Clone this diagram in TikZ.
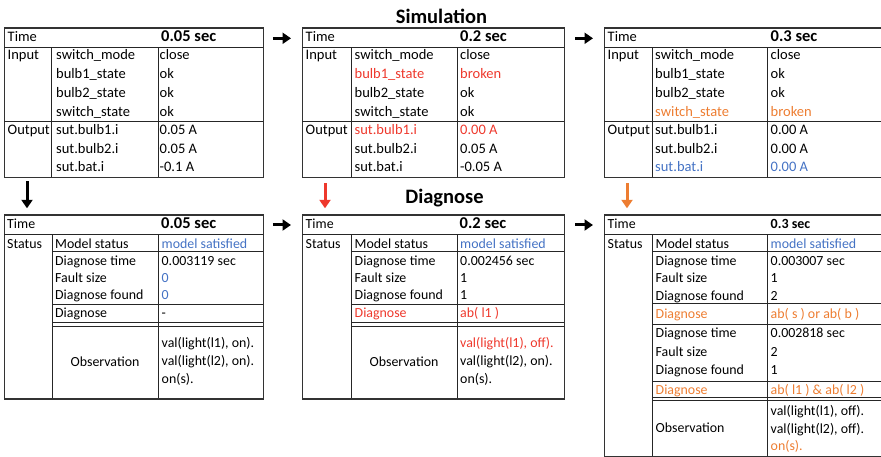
\documentclass[tikz,border=0pt]{standalone}
\usepackage{fontspec}
\setmainfont{Carlito}
\usetikzlibrary{arrows.meta}
\definecolor{okblue}{RGB}{68,114,196}
\definecolor{faultred}{RGB}{238,56,44}
\definecolor{faultorange}{RGB}{237,125,49}

\begin{document}
\begin{tikzpicture}[
  x=1pt,y=-1pt,
  frame/.style={draw=black!80,line width=1.4pt,inner sep=0pt,anchor=north west},
  rule/.style={draw=black!85,line width=0.9pt},
  cell/.style={anchor=base west,inner sep=0pt,font=\fontsize{14.5}{17}\selectfont},
  dcell/.style={cell,font=\fontsize{13.9}{17}\selectfont},
  timeval/.style={cell,font=\bfseries\fontsize{16.5}{20}\selectfont},
  heading/.style={anchor=base,inner sep=0pt,font=\bfseries\fontsize{20.5}{24}\selectfont},
  flow/.style={-{Triangle[length=8.5pt,width=11pt]},line width=3pt}
]
\useasboundingbox (0,0) rectangle (881,457);

\node[heading] (simtitle)  at (441.5,24)    {Simulation};
\node[heading] (diagtitle) at (444.5,203.3) {Diagnose};

% simulation at 0.05 sec
\node[frame,minimum width=259,minimum height=149.4] (simA) at (4,27.3) {};
\draw[rule] (4,47.3)--(263,47.3) (4,121.7)--(263,121.7)
  (51,47.3)--(51,176.7) (158,47.3)--(158,176.7);
\node[cell]    (simA-time) at (7.5,42) {Time};
\node[timeval] (simA-t)    at (161,42) {0.05 sec};
\node[cell]    (simA-in)   at (7.5,60) {Input};
\node[cell]    (simA-out)  at (7.5,135) {Output};
\foreach \name/\val/\col [count=\i] in {switch\_mode/close/black,bulb1\_state/ok/black,
    bulb2\_state/ok/black,switch\_state/ok/black}{
  \node[cell,text=\col] (simA-n\i) at (56,{41.3+18.7*\i}) {\name};
  \node[cell,text=\col] (simA-v\i) at (159.5,{41.3+18.7*\i}) {\val};
}
\foreach \name/\val/\col [count=\i] in {sut.bulb1.i/0.05 A/black,sut.bulb2.i/0.05 A/black,
    sut.bat.i/-0.1 A/black}{
  \node[cell,text=\col] (simA-on\i) at (56,{116.7+18.3*\i}) {\name};
  \node[cell,text=\col] (simA-ov\i) at (159.5,{116.7+18.3*\i}) {\val};
}

% simulation at 0.2 sec
\node[frame,minimum width=262,minimum height=149.4] (simB) at (302,27.3) {};
\draw[rule] (302,47.3)--(564,47.3) (302,121.7)--(564,121.7)
  (351,47.3)--(351,176.7) (457,47.3)--(457,176.7);
\node[cell]    (simB-time) at (305.5,42) {Time};
\node[timeval] (simB-t)    at (460,42) {0.2 sec};
\node[cell]    (simB-in)   at (305.5,60) {Input};
\node[cell]    (simB-out)  at (305.5,135) {Output};
\foreach \name/\val/\col [count=\i] in {switch\_mode/close/black,bulb1\_state/broken/faultred,
    bulb2\_state/ok/black,switch\_state/ok/black}{
  \node[cell,text=\col] (simB-n\i) at (354.5,{41.3+18.7*\i}) {\name};
  \node[cell,text=\col] (simB-v\i) at (460,{41.3+18.7*\i}) {\val};
}
\foreach \name/\val/\col [count=\i] in {sut.bulb1.i/0.00 A/faultred,sut.bulb2.i/0.05 A/black,
    sut.bat.i/-0.05 A/black}{
  \node[cell,text=\col] (simB-on\i) at (354.5,{116.7+18.3*\i}) {\name};
  \node[cell,text=\col] (simB-ov\i) at (460,{116.7+18.3*\i}) {\val};
}

% simulation at 0.3 sec
\node[frame,minimum width=290,minimum height=149.4] (simC) at (604,27.3) {};
\draw[rule] (604,47.3)--(894,47.3) (604,121.7)--(894,121.7)
  (652,47.3)--(652,176.7) (767,47.3)--(767,176.7);
\node[cell]    (simC-time) at (607.5,42) {Time};
\node[timeval] (simC-t)    at (770.5,42) {0.3 sec};
\node[cell]    (simC-in)   at (607.5,60) {Input};
\node[cell]    (simC-out)  at (607.5,135) {Output};
\foreach \name/\val/\col [count=\i] in {switch\_mode/close/black,bulb1\_state/ok/black,
    bulb2\_state/ok/black,switch\_state/broken/faultorange}{
  \node[cell,text=\col] (simC-n\i) at (655,{41.3+18.7*\i}) {\name};
  \node[cell,text=\col] (simC-v\i) at (770.5,{41.3+18.7*\i}) {\val};
}
\foreach \name/\val/\col [count=\i] in {sut.bulb1.i/0.00 A/black,sut.bulb2.i/0.00 A/black,
    sut.bat.i/0.00 A/okblue}{
  \node[cell,text=\col] (simC-on\i) at (655,{116.7+18.3*\i}) {\name};
  \node[cell,text=\col] (simC-ov\i) at (770.5,{116.7+18.3*\i}) {\val};
}

% diagnose at 0.05 sec
\node[frame,minimum width=259,minimum height=184] (diagA) at (4,214.3) {};
\draw[rule] (4,234.3)--(263,234.3) (52,251.7)--(263,251.7) (52,304.7)--(263,304.7)
  (52,322.7)--(263,322.7) (52,326)--(263,326)
  (52,234.3)--(52,398.3) (158,234.3)--(158,398.3);
\node[dcell]   (diagA-time) at (7,229) {Time};
\node[timeval] (diagA-t)    at (161,229) {0.05 sec};
\node[dcell]   (diagA-st)   at (7,248.3) {Status};
\node[dcell]   (diagA-ms)   at (55,248.3) {Model status};
\node[dcell,text=okblue] (diagA-msv) at (161.5,248.3) {model satisfied};
\foreach \name/\val/\col/\y in {Diagnose time/0.003119 sec/black/265.7,
    Fault size/0/okblue/282.5,Diagnose found/0/okblue/299.3}{
  \node[dcell] (diagA-\y) at (55,\y) {\name};
  \node[dcell,text=\col] (diagA-v\y) at (161.5,\y) {\val};
}
\node[dcell] (diagA-dg)  at (55,317.7) {Diagnose};
\node[dcell] (diagA-dgv) at (161.5,317.7) {-};
\node[dcell,anchor=base] (diagA-obs) at (105,366) {Observation};
\node[dcell] (diagA-o1) at (161.5,347.3) {val(light(l1), on).};
\node[dcell] (diagA-o2) at (161.5,365.3) {val(light(l2), on).};
\node[dcell] (diagA-o3) at (161.5,383.3) {on(s).};

% diagnose at 0.2 sec
\node[frame,minimum width=262,minimum height=184] (diagB) at (302,214.3) {};
\draw[rule] (302,234.3)--(564,234.3) (351,251.7)--(564,251.7) (351,304.7)--(564,304.7)
  (351,322.7)--(564,322.7) (351,326)--(564,326)
  (351,234.3)--(351,398.3) (457,234.3)--(457,398.3);
\node[dcell]   (diagB-time) at (305.5,229) {Time};
\node[timeval] (diagB-t)    at (459.5,229) {0.2 sec};
\node[dcell]   (diagB-st)   at (305.5,248.3) {Status};
\node[dcell]   (diagB-ms)   at (354.5,248.3) {Model status};
\node[dcell,text=okblue] (diagB-msv) at (460,248.3) {model satisfied};
\foreach \name/\val/\col/\y in {Diagnose time/0.002456 sec/black/265.7,
    Fault size/1/black/282.5,Diagnose found/1/black/299.3}{
  \node[dcell] (diagB-\y) at (354.5,\y) {\name};
  \node[dcell,text=\col] (diagB-v\y) at (460,\y) {\val};
}
\node[dcell,text=faultred] (diagB-dg)  at (354.5,317.7) {Diagnose};
\node[dcell,text=faultred] (diagB-dgv) at (460,317.7) {ab( l1 )};
\node[dcell,anchor=base] (diagB-obs) at (404,366) {Observation};
\node[dcell,text=faultred] (diagB-o1) at (460,347.3) {val(light(l1), off).};
\node[dcell] (diagB-o2) at (460,365.3) {val(light(l2), on).};
\node[dcell] (diagB-o3) at (460,383.3) {on(s).};

% diagnose at 0.3 sec
\node[frame,minimum width=290,minimum height=241.4] (diagC) at (604,214.3) {};
\draw[rule] (604,234.3)--(894,234.3) (652,251.7)--(894,251.7) (652,303.5)--(894,303.5)
  (652,324)--(894,324) (652,381)--(894,381)
  (652,397.3)--(894,397.3) (652,400.3)--(894,400.3)
  (652,234.3)--(652,455.7) (767,234.3)--(767,455.7);
\node[dcell] (diagC-time) at (607.5,229) {Time};
\node[timeval,font=\bfseries\fontsize{14}{17}\selectfont] (diagC-t) at (770.5,229) {0.3 sec};
\node[dcell] (diagC-st)   at (607.5,248.3) {Status};
\node[dcell] (diagC-ms)   at (655.5,248.3) {Model status};
\node[dcell,text=okblue] (diagC-msv) at (770.5,248.3) {model satisfied};
\foreach \name/\val/\y in {Diagnose time/0.003007 sec/265.7,Fault size/1/282.5,
    Diagnose found/2/300,Diagnose time/0.002818 sec/337.7,Fault size/2/356,
    Diagnose found/1/374.7}{
  \node[dcell] (diagC-\y) at (655.5,\y) {\name};
  \node[dcell] (diagC-v\y) at (770.5,\y) {\val};
}
\node[dcell,text=faultorange] (diagC-dg1)  at (655.5,318.3) {Diagnose};
\node[dcell,text=faultorange] (diagC-dgv1) at (770.5,318.3) {ab( s ) or ab( b )};
\node[dcell,text=faultorange] (diagC-dg2)  at (655.5,394) {Diagnose};
\node[dcell,text=faultorange] (diagC-dgv2) at (770.5,394) {ab( l1 ) \& ab( l2 )};
\node[dcell] (diagC-obs) at (655.5,432) {Observation};
\node[dcell] (diagC-o1) at (770.5,415.3) {val(light(l1), off).};
\node[dcell] (diagC-o2) at (770.5,433.3) {val(light(l2), off).};
\node[dcell,text=faultorange] (diagC-o3) at (770.5,450.7) {on(s).};

% time steps
\draw[flow,shorten <=8.5pt,shorten >=11pt] ([yshift=-11pt]simA.north east) -- ([yshift=-11pt]simB.north west);
\draw[flow,shorten <=10pt,shorten >=11pt] ([yshift=-11pt]simB.north east) -- ([yshift=-11pt]simC.north west);
\draw[flow,shorten <=8.5pt,shorten >=11pt] ([yshift=-10.7pt]diagA.north east) -- ([yshift=-10.7pt]diagB.north west);
\draw[flow,shorten <=10pt,shorten >=11pt] ([yshift=-10.7pt]diagB.north east) -- ([yshift=-10.7pt]diagC.north west);

% simulation feeds diagnose
\draw[flow,shorten <=3.3pt,shorten >=6pt] ([xshift=23pt]simA.south west) -- ([xshift=23pt]diagA.north west);
\draw[flow,faultred,shorten <=5pt,shorten >=6pt] ([xshift=23pt]simB.south west) -- ([xshift=23pt]diagB.north west);
\draw[flow,faultorange,shorten <=5pt,shorten >=6pt] ([xshift=23pt]simC.south west) -- ([xshift=23pt]diagC.north west);
\end{tikzpicture}
\end{document}
